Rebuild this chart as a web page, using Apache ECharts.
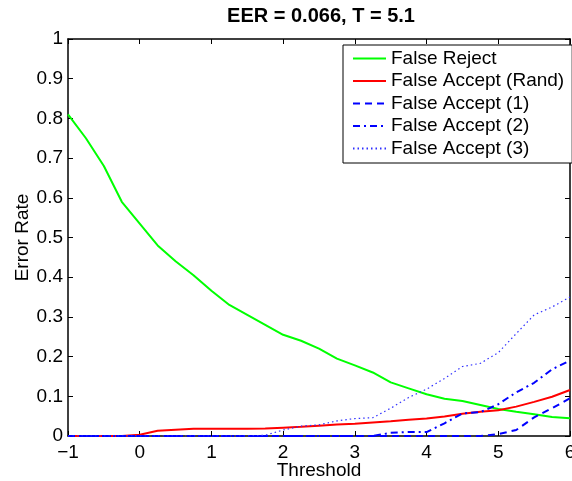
<!DOCTYPE html>
<html>
<head>
<meta charset="utf-8">
<script src="https://cdn.jsdelivr.net/npm/echarts@6/dist/echarts.min.js"></script>
<style>
	html, body { margin: 0; padding: 0; background: #fff; }
	#chart { width: 572px; height: 481px; }
</style>
</head>
<body>
<div id="chart"></div>
<script>
// thresholds shared by all curves
var thresholds = [-1, -0.75, -0.5, -0.25, 0, 0.25, 0.5, 0.75, 1, 1.25, 1.5, 1.75, 2, 2.25, 2.5,
	2.75, 3, 3.25, 3.5, 3.75, 4, 4.25, 4.5, 4.75, 5, 5.25, 5.5, 5.75, 6];

var falseReject = [0.81, 0.75, 0.68, 0.59, 0.535, 0.48, 0.44, 0.405, 0.366, 0.33, 0.305, 0.28, 0.255, 0.24, 0.22,
	0.195, 0.178, 0.16, 0.135, 0.12, 0.105, 0.094, 0.088, 0.078, 0.068, 0.061, 0.055, 0.048, 0.045];
var falseAcceptRand = [0, 0, 0, 0, 0.003, 0.013, 0.016, 0.018, 0.018, 0.018, 0.018, 0.019, 0.021, 0.023, 0.026,
	0.029, 0.031, 0.034, 0.037, 0.041, 0.044, 0.049, 0.056, 0.061, 0.065, 0.074, 0.086, 0.099, 0.116];
var falseAccept1 = [0, 0, 0, 0, 0, 0, 0, 0, 0, 0, 0, 0, 0, 0, 0,
	0, 0, 0, 0, 0, 0, 0, 0, 0, 0.005, 0.015, 0.047, 0.07, 0.095];
var falseAccept2 = [0, 0, 0, 0, 0, 0, 0, 0, 0, 0, 0, 0, 0, 0, 0,
	0, 0, 0, 0.008, 0.01, 0.01, 0.032, 0.057, 0.06, 0.08, 0.11, 0.134, 0.168, 0.19];
var falseAccept3 = [0, 0, 0, 0, 0, 0, 0, 0, 0, 0, 0, 0.002, 0.015, 0.025, 0.028,
	0.038, 0.044, 0.046, 0.07, 0.097, 0.118, 0.145, 0.175, 0.183, 0.21, 0.258, 0.305, 0.325, 0.35];

var xTicks = [-1, 0, 1, 2, 3, 4, 5, 6];
var yTicks = [0, 0.1, 0.2, 0.3, 0.4, 0.5, 0.6, 0.7, 0.8, 0.9, 1];

var FONT = "'Liberation Sans', Arial, Helvetica, sans-serif";

function pairs(values) {
	var out = [];
	for (var i = 0; i < thresholds.length; i++) {
		out.push([thresholds[i], values[i]]);
	}
	return out;
}

function fmtX(v) {
	return String(v).replace('-', '\u2212');
}

function fmtY(v) {
	if (v === 0) return "0";
	if (v === 1) return "1";
	return v.toFixed(1);
}

function boxAxis(position, isX) {
	var axis = {
		type: 'value',
		position: position,
		axisLine: { show: true, onZero: false, lineStyle: { color: '#000', width: 1.5 } },
		axisTick: { show: true, inside: true, length: 5, lineStyle: { color: '#000', width: 1 } },
		splitLine: { show: false },
		axisLabel: { show: false }
	};
	if (isX) {
		axis.min = xTicks[0]; axis.max = xTicks[xTicks.length - 1]; axis.interval = 1;
	} else {
		axis.min = yTicks[0]; axis.max = yTicks[yTicks.length - 1]; axis.interval = 0.1;
	}
	return axis;
}

var xMain = boxAxis('bottom', true);
xMain.axisLabel = { show: true, color: '#000', fontSize: 19, fontFamily: FONT, margin: 7, formatter: fmtX };
xMain.name = 'Threshold';
xMain.nameLocation = 'middle';
xMain.nameGap = 25;
xMain.nameMoveOverlap = false;
xMain.nameTextStyle = { color: '#000', fontSize: 19, fontFamily: FONT };

var yMain = boxAxis('left', false);
yMain.axisLabel = { show: true, color: '#000', fontSize: 19, fontFamily: FONT, margin: 5, formatter: fmtY };
yMain.name = 'Error Rate';
yMain.nameLocation = 'middle';
yMain.nameGap = 36;
yMain.nameMoveOverlap = false;
yMain.nameTextStyle = { color: '#000', fontSize: 19, fontFamily: FONT };

function line(name, values, color, width, type) {
	return {
		name: name,
		type: 'line',
		data: pairs(values),
		showSymbol: false,
		symbol: 'none',
		animation: false,
		lineStyle: { color: color, width: width, type: type },
		itemStyle: { color: color }
	};
}

var chart = echarts.init(document.getElementById('chart'));
chart.setOption({
	animation: false,
	backgroundColor: '#fff',
	title: {
		text: 'EER = 0.066, T = 5.1',
		left: 321,
		top: 6,
		textAlign: 'center',
		padding: 0,
		textStyle: { color: '#000', fontSize: 20, fontWeight: 'bold', fontFamily: FONT }
	},
	grid: { left: 68, right: 2, top: 39, bottom: 45, outerBoundsMode: 'none' },
	xAxis: [xMain, boxAxis('top', true)],
	yAxis: [yMain, boxAxis('right', false)],
	legend: {
		orient: 'vertical',
		left: 343,
		top: 45,
		padding: [4, 8, 5, 9],
		itemWidth: 33,
		itemHeight: 14,
		itemGap: 3.5,
		backgroundColor: '#fff',
		borderColor: '#000',
		borderWidth: 1,
		borderRadius: 0,
		itemStyle: { opacity: 0 },
		textStyle: { color: '#000', fontSize: 19, fontFamily: FONT },
		data: ['False Reject', 'False Accept (Rand)', 'False Accept (1)', 'False Accept (2)', 'False Accept (3)']
	},
	series: [
		line('False Reject', falseReject, '#00ff00', 2, 'solid'),
		line('False Accept (Rand)', falseAcceptRand, '#ff0000', 2, 'solid'),
		line('False Accept (1)', falseAccept1, '#0000ff', 2, [7, 5]),
		line('False Accept (2)', falseAccept2, '#0000ff', 2, [7, 4, 2, 4]),
		line('False Accept (3)', falseAccept3, '#3030ff', 1.2, [1.5, 3])
	]
});
</script>
</body>
</html>
